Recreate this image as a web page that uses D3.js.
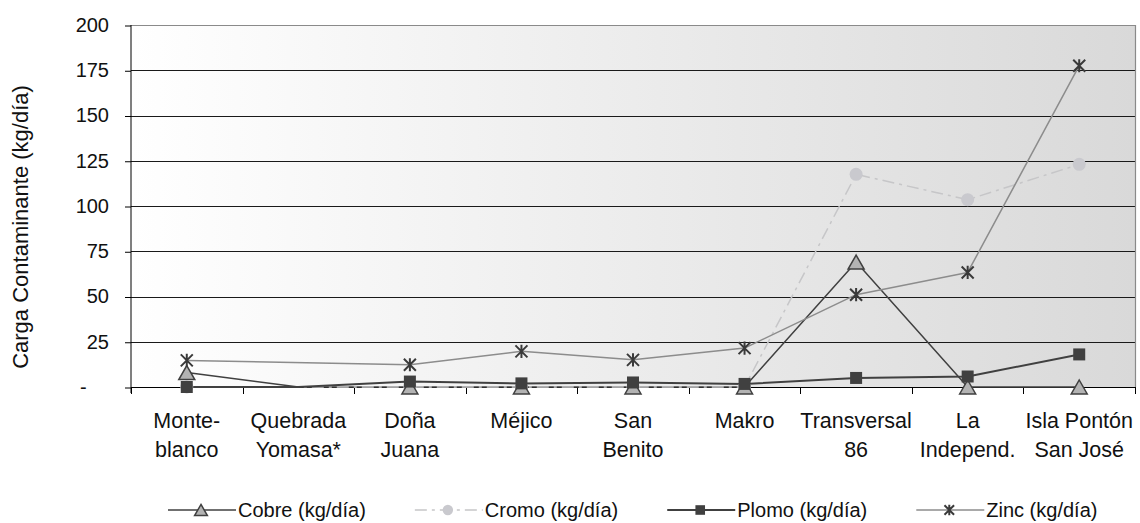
<!DOCTYPE html>
<html>
<head>
<meta charset="utf-8">
<script src="https://cdn.jsdelivr.net/npm/d3@7"></script>
<style>
  html, body { margin: 0; padding: 0; background: #ffffff; }
  svg { display: block; font-family: "Liberation Sans", Arial, sans-serif; }
</style>
</head>
<body>
<svg id="chart" width="1140" height="523"></svg>
<script>
// Stations along the river (line breaks shown in the axis labels)
const categories = [
  "Monte-\nblanco", "Quebrada\nYomasa*", "Doña\nJuana", "Méjico", "San\nBenito",
  "Makro", "Transversal\n86", "La\nIndepend.", "Isla Pontón\nSan José"
];
// Stations without a sampling point get no marker
const sinMuestra = ["Quebrada\nYomasa*"];

// Pollutant loads, kg/día (null = no value, line spans the gap)
const cobre = [8, 0, 0, 0, 0, 0, 69, 0, 0];
const cromo = [0, 0, 0, 0, 0, 0, 117.5, 103.5, 123];
const plomo = [0, 0, 3, 2, 2.5, 1.7, 5, 5.8, 18];
const zinc  = [14.7, null, 12.3, 19.7, 15, 21.5, 51, 63.3, 177.5];

const yTicks = [0, 25, 50, 75, 100, 125, 150, 175, 200];
const seriesNames = ["Cobre (kg/día)", "Cromo (kg/día)", "Plomo (kg/día)", "Zinc (kg/día)"];
const yTitle = "Carga Contaminante (kg/día)";

const series = [
  { name: seriesNames[0], values: cobre, marker: "triangle", stroke: "#404040", width: 1.5, dash: null },
  { name: seriesNames[1], values: cromo, marker: "circle",   stroke: "#c6c6c8", width: 1.5, dash: "12,5,3,5" },
  { name: seriesNames[2], values: plomo, marker: "square",   stroke: "#404040", width: 2,   dash: null },
  { name: seriesNames[3], values: zinc,  marker: "star",     stroke: "#8c8c8c", width: 1.5, dash: null }
];

const svg = d3.select("#chart");
const plot = { left: 131, right: 1135, top: 25, bottom: 387 };

const x = d3.scaleBand().domain(categories).range([plot.left, plot.right]).padding(0);
const y = d3.scaleLinear().domain([0, 200]).range([plot.bottom, plot.top]);
const cx = c => x(c) + x.bandwidth() / 2;
const snap = v => Math.round(v) + 0.5;

// Plot background: horizontal white-to-grey gradient
const defs = svg.append("defs");
const grad = defs.append("linearGradient").attr("id", "bg").attr("x1", "0").attr("x2", "1").attr("y1", "0").attr("y2", "0");
grad.append("stop").attr("offset", "0%").attr("stop-color", "#ffffff");
grad.append("stop").attr("offset", "100%").attr("stop-color", "#d9d9d9");
svg.append("rect")
  .attr("x", plot.left).attr("y", plot.top)
  .attr("width", plot.right - plot.left).attr("height", plot.bottom - plot.top)
  .attr("fill", "url(#bg)");

// Horizontal gridlines
svg.append("g").selectAll("line")
  .data(yTicks.filter(v => v > 0 && v < 200))
  .join("line")
  .attr("x1", plot.left).attr("x2", plot.right)
  .attr("y1", d => snap(y(d))).attr("y2", d => snap(y(d)))
  .attr("stroke", "#1a1a1a").attr("stroke-width", 1);

// Plot frame (top and right)
svg.append("path")
  .attr("d", `M${plot.left},${snap(y(200))}H${snap(plot.right)}V${plot.bottom}`)
  .attr("fill", "none").attr("stroke", "#8a8a8a").attr("stroke-width", 1.2);

// Y axis
const yAxis = svg.append("g")
  .attr("transform", `translate(${snap(plot.left) - 0.5},0)`)
  .call(d3.axisLeft(y).tickValues(yTicks).tickSize(6).tickPadding(16)
    .tickFormat(d => d === 0 ? "-" : d3.format("d")(d)));
yAxis.select(".domain").attr("stroke", "#000").attr("d", `M0,${plot.top}V${plot.bottom + 6}`);
yAxis.selectAll(".tick line").attr("stroke", "#000").attr("transform", "translate(0,0.5)");
yAxis.selectAll(".tick text")
  .attr("font-size", 20).attr("fill", "#111").attr("font-family", "Liberation Sans, Arial, sans-serif");
// Accounting-style zero: dash followed by two digit widths of space
const digitW = yAxis.select(".tick:last-of-type text").node().getComputedTextLength() / 3;
yAxis.selectAll(".tick text").filter(d => d === 0).attr("dx", -2 * digitW);

// X axis line and category ticks at band edges
svg.append("line")
  .attr("x1", plot.left).attr("x2", plot.right)
  .attr("y1", snap(plot.bottom)).attr("y2", snap(plot.bottom))
  .attr("stroke", "#000").attr("stroke-width", 1);
const edges = categories.map(c => x(c)).concat([plot.right]);
svg.append("g").selectAll("line").data(edges).join("line")
  .attr("x1", d => snap(d)).attr("x2", d => snap(d))
  .attr("y1", plot.bottom).attr("y2", plot.bottom + 7)
  .attr("stroke", "#000").attr("stroke-width", 1);

// Category labels
const catLabels = svg.append("g").attr("font-size", 21.5).attr("fill", "#111").attr("text-anchor", "middle");
categories.forEach(c => {
  const t = catLabels.append("text").attr("x", cx(c)).attr("y", 428);
  c.split("\n").forEach((line, i) => {
    t.append("tspan").attr("x", cx(c)).attr("dy", i === 0 ? 0 : 29).text(line);
  });
});

// Y axis title
svg.append("text")
  .attr("transform", `translate(28,${(plot.top + plot.bottom) / 2 + 21}) rotate(-90)`)
  .attr("text-anchor", "middle").attr("font-size", 22).attr("fill", "#111")
  .text(yTitle);

// Marker drawing
function drawMarker(g, type, px, py, s) {
  if (type === "triangle") {
    const h = 14 * s, w = 16 * s;
    g.append("path")
      .attr("d", `M${px},${py - h / 2}L${px + w / 2},${py + h / 2}L${px - w / 2},${py + h / 2}Z`)
      .attr("fill", "#b3b3b3").attr("stroke", "#404040").attr("stroke-width", 1.5);
  } else if (type === "circle") {
    g.append("circle").attr("cx", px).attr("cy", py).attr("r", 6.5 * s).attr("fill", "#c9c9ce");
  } else if (type === "square") {
    const a = 12 * s;
    g.append("rect").attr("x", px - a / 2).attr("y", py - a / 2).attr("width", a).attr("height", a)
      .attr("fill", "#404040");
  } else if (type === "star") {
    const r = 6 * s;
    g.append("path")
      .attr("d", `M${px - r},${py - r}L${px + r},${py + r}M${px - r},${py + r}L${px + r},${py - r}M${px},${py - r * 1.1}V${py + r * 1.1}`)
      .attr("stroke", "#3a3a3a").attr("stroke-width", 2).attr("fill", "none");
  }
}

// Series lines (drawn in series order), then markers
const lineGen = d3.line().x(d => cx(d.c)).y(d => y(d.v));
const linesG = svg.append("g");
series.forEach(s => {
  const pts = categories.map((c, i) => ({ c, v: s.values[i] })).filter(d => d.v !== null);
  linesG.append("path")
    .attr("d", lineGen(pts))
    .attr("fill", "none").attr("stroke", s.stroke).attr("stroke-width", s.width)
    .attr("stroke-dasharray", s.dash).attr("stroke-linejoin", "round");
});
const markersG = svg.append("g");
[1, 0, 2, 3].forEach(k => {
  const s = series[k];
  categories.forEach((c, i) => {
    const v = s.values[i];
    if (v === null || sinMuestra.includes(c)) return;
    drawMarker(markersG, s.marker, cx(c), y(v), 1);
  });
});

// Legend
const legend = svg.append("g").attr("font-size", 20).attr("fill", "#111");
let lx = 168;
const ly = 510;
series.forEach(s => {
  const g = legend.append("g");
  g.append("line").attr("x1", lx).attr("x2", lx + 68).attr("y1", ly).attr("y2", ly)
    .attr("stroke", s.stroke).attr("stroke-width", s.width).attr("stroke-dasharray", s.dash);
  drawMarker(g, s.marker, lx + 33, ly, 0.8);
  const t = g.append("text").attr("x", lx + 70).attr("y", ly + 7).text(s.name);
  lx += 70 + t.node().getComputedTextLength() + 49;
});
</script>
</body>
</html>
